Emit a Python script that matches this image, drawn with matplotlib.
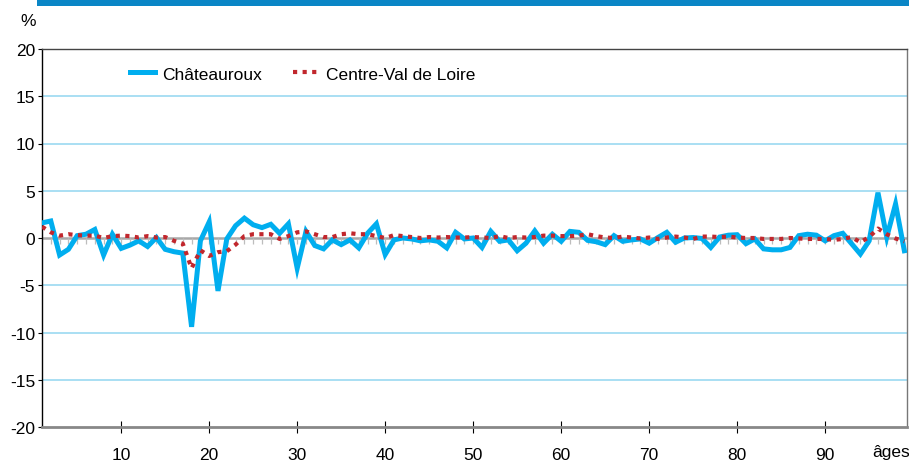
import numpy as np
import matplotlib
matplotlib.use("Agg")
import matplotlib.pyplot as plt
from matplotlib.lines import Line2D

plt.rcParams['font.family'] = ['Liberation Sans', 'DejaVu Sans']

ages = np.arange(1, 100)

chateauroux = [1.6, 1.8, -1.8, -1.2, 0.25, 0.4, 0.9, -1.8, 0.4, -1.1,
               -0.75, -0.3, -0.9, 0.05, -1.2, -1.45, -1.6, -9.4, -0.3, 1.7,
               -5.6, -0.1, 1.3, 2.1, 1.4, 1.1, 1.45, 0.5, 1.5, -3.2,
               0.7, -0.8, -1.15, -0.2, -0.7, -0.2, -1.05, 0.5, 1.5, -1.75,
               -0.2, 0.0, -0.1, -0.3, -0.2, -0.35, -1.05, 0.6, -0.1, 0.0,
               -1.0, 0.7, -0.35, -0.2, -1.35, -0.55, 0.75, -0.55, 0.4, -0.35,
               0.7, 0.6, -0.25, -0.4, -0.7, 0.25, -0.35, -0.2, -0.1, -0.55,
               0.05, 0.6, -0.45, 0.0, 0.05, -0.05, -1.0, 0.1, 0.3, 0.35,
               -0.6, -0.1, -1.15, -1.25, -1.25, -1.0, 0.25, 0.4, 0.3, -0.3,
               0.25, 0.5, -0.6, -1.7, -0.3, 4.8, 0.1, 3.6, -1.35]

centre_val_de_loire = [1.2, 0.6, 0.25, 0.4, 0.3, 0.25, 0.25, 0.0, 0.2, 0.25,
                       0.2, 0.05, 0.2, 0.05, 0.1, -0.3, -0.6, -3.2, -1.3, -1.9,
                       -1.5, -1.4, -0.7, 0.2, 0.4, 0.4, 0.4, -0.1, 0.2, 0.6,
                       0.7, 0.4, 0.1, 0.1, 0.4, 0.5, 0.4, 0.4, 0.2, 0.0,
                       0.3, 0.2, 0.1, 0.0, 0.1, 0.05, 0.1, 0.05, 0.05, 0.1,
                       0.05, 0.0, 0.2, 0.0, 0.1, 0.05, 0.1, 0.25, 0.25, 0.2,
                       0.2, 0.25, 0.4, 0.2, 0.05, 0.0, 0.15, 0.05, -0.05, 0.05,
                       -0.1, 0.05, 0.15, 0.05, -0.1, 0.15, 0.15, 0.1, 0.15, 0.05,
                       0.0, 0.0, -0.1, -0.1, -0.1, 0.0, -0.05, -0.1, -0.1, -0.1,
                       -0.2, -0.1, 0.1, -0.45, 0.1, 1.0, 0.4, -0.05, -0.35]

yticks = [20, 15, 10, 5, 0, -5, -10, -15, -20]
xticks = [10, 20, 30, 40, 50, 60, 70, 80, 90]

BLUE = '#00aeef'
RED = '#c1272d'
GRID = '#a3dcf2'
FS = 12.5

W, H = 909, 464
fig = plt.figure(figsize=(W / 100, H / 100), dpi=100)
ax = fig.add_axes([42 / W, (H - 428) / H, 865 / W, 378 / H])

# bandeau bleu en haut
fig.patches.append(plt.Rectangle((37 / W, (H - 7) / H), 1 - 37 / W, 7 / H,
                                 transform=fig.transFigure, color='#0a86c6', lw=0))

for v in [15, 10, 5, -5, -10, -15]:
    ax.axhline(v, color=GRID, lw=1.3, zorder=1)
ax.axhline(0, color='#a8a8a8', lw=1.8, zorder=1)
ax.vlines(ages, -0.6, 0, color='#bdbdbd', lw=0.9, zorder=1)

ax.plot(ages, chateauroux, color=BLUE, lw=3.6, solid_joinstyle='miter', zorder=3)
ax.plot(ages, centre_val_de_loire, color=RED, lw=3.0, linestyle=(0, (1, 1.3)),
        dash_capstyle='butt', zorder=4)

ax.set_xlim(1, 99.3)
ax.set_ylim(-20, 20)
ax.set_yticks(yticks)
ax.set_yticklabels([str(v) for v in yticks])
ax.set_xticks(xticks)
ax.set_xticklabels([str(v) for v in xticks])

for s in ['top', 'right', 'left', 'bottom']:
    ax.spines[s].set_linewidth(1.0)
ax.spines['left'].set_color('black')
ax.spines['top'].set_color('#444444')
ax.spines['right'].set_color('#777777')
ax.spines['bottom'].set_color('#888888')
ax.spines['bottom'].set_linewidth(2.0)

ax.tick_params(axis='y', direction='out', length=3, width=0.8, pad=2,
               labelsize=FS, colors='black')
ax.tick_params(axis='x', direction='inout', length=9, width=0.8, pad=10,
               labelsize=FS, colors='black')

fig.text(20 / W, 1 - 22 / H, '%', fontsize=FS, va='center', ha='left')
fig.text(872 / W, 1 - 453 / H, 'âges', fontsize=FS, va='center', ha='left')

handles = [Line2D([], [], color=BLUE, lw=3.6),
           Line2D([], [], color=RED, lw=3.0, linestyle=(0, (1, 1.3)))]
ax.legend(handles, ['Châteauroux', 'Centre-Val de Loire'], ncol=2, frameon=False,
          loc='center left', bbox_to_anchor=(0.102, 0.934), borderaxespad=0,
          borderpad=0, handlelength=1.45, handletextpad=0.4, columnspacing=1.8,
          fontsize=FS)

fig.savefig('out.png', dpi=100)
